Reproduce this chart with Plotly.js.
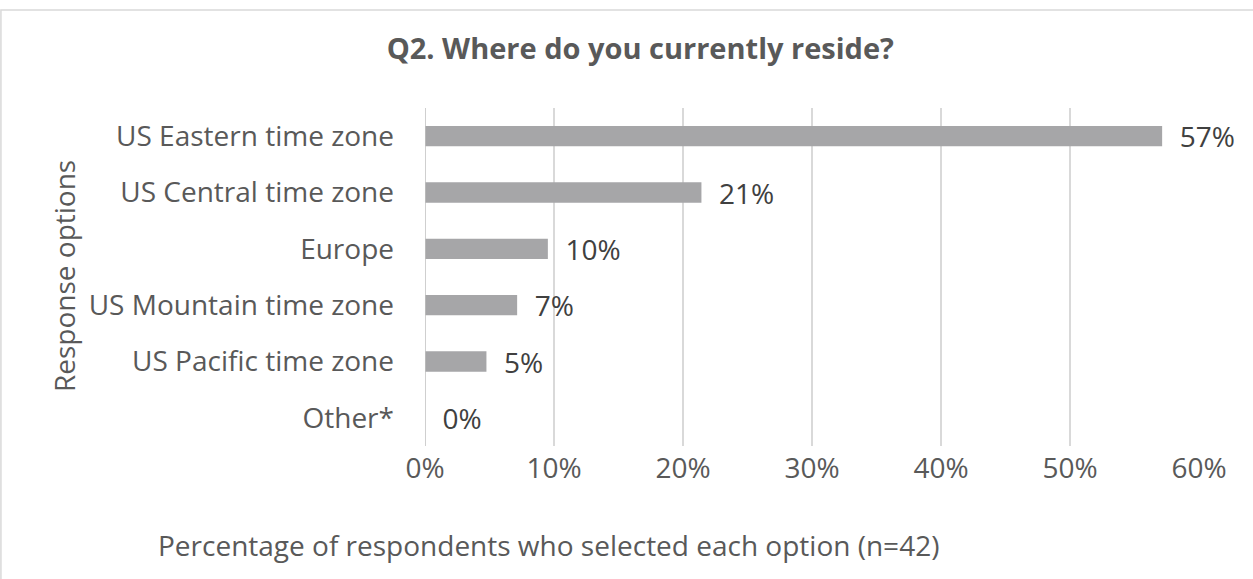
<!DOCTYPE html>
<html>
<head>
<meta charset="utf-8">
<script src="https://cdn.plot.ly/plotly-3.0.1.min.js"></script>
<style>html,body{margin:0;padding:0;background:#fff;}</style>
</head>
<body>
<div id="chart" style="width:1253px;height:579px;"></div>
<script>
const categories = ["US Eastern time zone","US Central time zone","Europe","US Mountain time zone","US Pacific time zone","Other*"];
const counts = [24, 9, 4, 3, 2, 0];
const totalN = 42;
const shares = counts.map(c => c / totalN);
const tickVals = [0, 0.1, 0.2, 0.3, 0.4, 0.5, 0.6];
const tickLabels = ["0%","10%","20%","30%","40%","50%","60%"];

const font = "'Open Sans', sans-serif";
const fs = 28;

const trace = {
  type: "bar",
  orientation: "h",
  y: categories,
  x: shares,
  marker: {color: "#A6A6A8"},
  texttemplate: "\u00a0\u00a0%{x:.0%}",
  textposition: "outside",
  constraintext: "none",
  cliponaxis: false,
  textfont: {family: font, size: fs, color: "#404040"},
  hoverinfo: "skip"
};

const layout = {
  width: 1253, height: 579,
  margin: {l: 425, r: 54, t: 108, b: 133},
  paper_bgcolor: "#fff", plot_bgcolor: "#fff",
  showlegend: false,
  bargap: 0.64,
  title: {text: "<b>Q2. Where do you currently reside?</b>", x: 0.511, xanchor: "center", y: 0.915, yanchor: "middle",
          font: {family: font, size: 29, color: "#595959"}},
  xaxis: {
    range: [0, 0.6], tickvals: tickVals, ticktext: tickLabels,
    showgrid: true, gridcolor: "#D9D9D9", gridwidth: 1.5,
    zeroline: false, showline: false, ticks: "",
    tickfont: {family: font, size: fs, color: "#595959"},
    ticklabelstandoff: 3
  },
  yaxis: {
    autorange: "reversed", categoryorder: "array", categoryarray: categories,
    showgrid: false, zeroline: false, showline: false, ticks: "",
    tickfont: {family: font, size: fs, color: "#595959"},
    ticklabelstandoff: 30
  },
  shapes: [
    {type: "line", xref: "x", yref: "paper", x0: 0, x1: 0, y0: 0, y1: 1, line: {color: "#BFBFBF", width: 1.5}},
    {type: "rect", xref: "paper", yref: "paper", x0: -0.5479, x1: 1.1, y0: -0.5, y1: 1.2899, line: {color: "#D9D9D9", width: 1.5}, fillcolor: "rgba(0,0,0,0)", layer: "below"}
  ],
  annotations: [
    {text: "Percentage of respondents who selected each option (n=42)", xref: "paper", yref: "paper",
     x: (548 - 425) / 774, y: -(545 - 446) / 338, xanchor: "center", yanchor: "middle", showarrow: false,
     font: {family: font, size: fs, color: "#595959"}},
    {text: "Response options", xref: "paper", yref: "paper",
     x: (64 - 425) / 774, y: (446 - 276) / 338, xanchor: "center", yanchor: "middle", showarrow: false, textangle: -90,
     font: {family: font, size: fs, color: "#595959"}}
  ]
};

Plotly.newPlot("chart", [trace], layout, {displayModeBar: false, staticPlot: true});
</script>
</body>
</html>
